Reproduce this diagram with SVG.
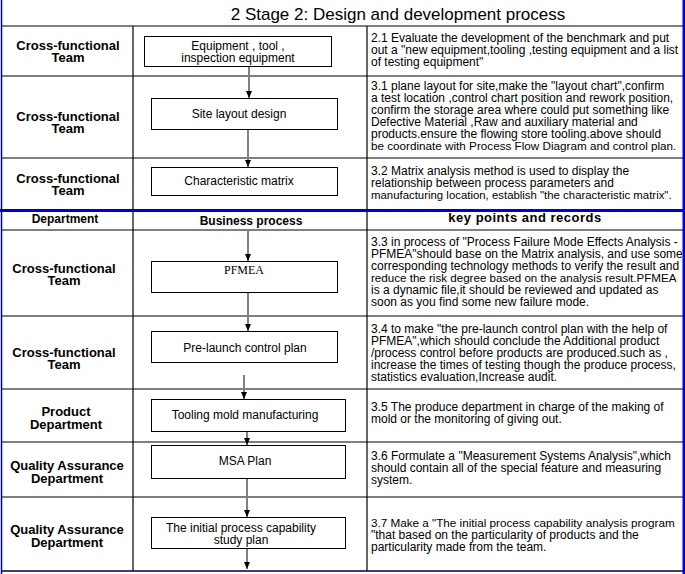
<svg xmlns="http://www.w3.org/2000/svg" width="685" height="574" viewBox="0 0 685 574">
<style>
.lbl{font-family:"Liberation Sans",Arial,sans-serif;font-size:13px;font-weight:bold;fill:#000;text-anchor:middle}
.hdr{font-family:"Liberation Sans",Arial,sans-serif;font-size:12px;font-weight:bold;fill:#000;text-anchor:middle}
.txt{font-family:"Liberation Sans",Arial,sans-serif;font-size:12px;fill:#000}
.bt{font-family:"Liberation Sans",Arial,sans-serif;font-size:12px;fill:#000;text-anchor:middle}
.box{fill:#fff;stroke:#000;stroke-width:1}
.grid{stroke:#000;stroke-width:1.2;fill:none}
.con{stroke:#808080;stroke-width:2;fill:none}
</style>
<defs>
<marker id="ah" markerWidth="7" markerHeight="6" refX="7" refY="3" orient="auto" markerUnits="userSpaceOnUse" viewBox="0 0 7 6">
<path d="M0,0 L7,3 L0,6 Z" fill="#000"/>
</marker>
</defs>
<rect x="0" y="0" width="685" height="574" fill="#fff"/>
<g id="grid">
<line class="grid" x1="2" y1="26" x2="683" y2="26"/>
<line class="grid" x1="2" y1="76" x2="683" y2="76"/>
<line class="grid" x1="2" y1="158" x2="683" y2="158"/>
<line class="grid" x1="2" y1="230" x2="683" y2="230"/>
<line class="grid" x1="2" y1="316" x2="683" y2="316"/>
<line class="grid" x1="2" y1="389" x2="683" y2="389"/>
<line class="grid" x1="2" y1="442" x2="683" y2="442"/>
<line class="grid" x1="2" y1="497" x2="683" y2="497"/>
<line x1="2" y1="571" x2="683" y2="571" stroke="#000040" stroke-width="1.5"/>
<line class="grid" x1="133" y1="26" x2="133" y2="571"/>
<line class="grid" x1="367" y1="26" x2="367" y2="571"/>
<rect x="0" y="209" width="685" height="3" fill="#0000cc"/>
<line x1="1.5" y1="0" x2="1.5" y2="574" stroke="#000080" stroke-width="1.5"/>
<rect x="682.5" y="0" width="2.5" height="574" fill="#0000e0"/>
</g>
<text x="398" y="20" font-family="Liberation Sans,Arial,sans-serif" font-size="17" text-anchor="middle">2  Stage 2: Design and development process</text>
<g id="header">
<text class="hdr" x="65" y="223" font-size="13">Department</text>
<text class="hdr" x="251" y="225">Business process</text>
<text class="hdr" x="525" y="222" style="font-size:13px;letter-spacing:0.5px">key points and records</text>
</g>
<g id="dept">
<text class="lbl" x="68" y="50">Cross-functional</text><text class="lbl" x="68" y="62">Team</text>
<text class="lbl" x="68" y="121">Cross-functional</text><text class="lbl" x="68" y="133">Team</text>
<text class="lbl" x="68" y="183">Cross-functional</text><text class="lbl" x="68" y="195">Team</text>
<text class="lbl" x="64" y="273">Cross-functional</text><text class="lbl" x="64" y="285">Team</text>
<text class="lbl" x="64" y="357">Cross-functional</text><text class="lbl" x="64" y="369">Team</text>
<text class="lbl" x="66" y="416">Product</text><text class="lbl" x="66" y="429">Department</text>
<text class="lbl" x="67" y="470">Quality Assurance</text><text class="lbl" x="67" y="483">Department</text>
<text class="lbl" x="67" y="534">Quality Assurance</text><text class="lbl" x="67" y="547">Department</text>
</g>
<g id="connectors">
<line class="con" x1="249" y1="66" x2="249" y2="98" marker-end="url(#ah)"/>
<line class="con" x1="248" y1="129" x2="248" y2="167" marker-end="url(#ah)"/>
<line class="con" x1="248" y1="230" x2="248" y2="261" marker-end="url(#ah)"/>
<line class="con" x1="248" y1="292" x2="248" y2="331" marker-end="url(#ah)"/>
<line class="con" x1="244" y1="375" x2="244" y2="399" marker-end="url(#ah)"/>
<line class="con" x1="247" y1="431" x2="247" y2="445" marker-end="url(#ah)"/>
<line class="con" x1="247" y1="478" x2="247" y2="517" marker-end="url(#ah)"/>
<line class="con" x1="247" y1="548" x2="247" y2="569" marker-end="url(#ah)"/>
</g>
<g id="n1"><rect class="box" x="144.5" y="36.5" width="187" height="30"/><text class="bt" x="238" y="50">Equipment , tool ,</text><text class="bt" x="238" y="62">inspection equipment</text></g>
<g id="n2"><rect class="box" x="151.5" y="98.5" width="186" height="31"/><text class="bt" x="239" y="118">Site layout design</text></g>
<g id="n3"><rect class="box" x="151.5" y="167.5" width="186" height="28"/><text class="bt" x="239" y="185">Characteristic matrix</text></g>
<g id="n4"><rect class="box" x="151.5" y="261.5" width="186" height="31"/><text x="244" y="274" font-family="Liberation Serif,serif" font-size="12" text-anchor="middle">PFMEA</text></g>
<g id="n5"><rect class="box" x="151.5" y="331.5" width="186" height="31"/><text class="bt" x="245" y="352">Pre-launch control plan</text></g>
<g id="n6"><rect class="box" x="151.5" y="399.5" width="194" height="32"/><text class="bt" x="245" y="419">Tooling mold manufacturing</text></g>
<g id="n7"><rect class="box" x="151.5" y="445.5" width="194" height="33"/><text class="bt" x="245" y="465">MSA Plan</text></g>
<g id="n8"><rect class="box" x="151.5" y="517.5" width="194" height="31"/><text class="bt" x="241" y="532">The initial process capability</text><text class="bt" x="241" y="544">study plan</text></g>
<g id="notes">
<text class="txt" x="371" y="42">2.1 Evaluate the development of the benchmark and put</text>
<text class="txt" x="371" y="54">out a "new equipment,tooling ,testing equipment and a list</text>
<text class="txt" x="371" y="66">of testing equipment"</text>
<text class="txt" x="371" y="90">3.1 plane layout for site,make the "layout chart",confirm</text>
<text class="txt" x="371" y="102">a test location ,control chart position and rework position,</text>
<text class="txt" x="371" y="114">confirm the storage area where could put something like</text>
<text class="txt" x="371" y="126">Defective Material ,Raw and auxiliary  material and</text>
<text class="txt" x="371" y="138">products.ensure the flowing store tooling.above should</text>
<text class="txt" x="371" y="150" style="font-size:11.7px">be coordinate with Process Flow Diagram and control plan.</text>
<text class="txt" x="371" y="175">3.2 Matrix analysis method is used to display the</text>
<text class="txt" x="371" y="187">relationship between process parameters and</text>
<text class="txt" x="371" y="199" style="font-size:11.4px">manufacturing location, establish "the characteristic matrix".</text>
<text class="txt" x="371" y="246">3.3 in process of "Process Failure Mode Effects Analysis -</text>
<text class="txt" x="371" y="258">PFMEA"should base on the Matrix analysis, and use some</text>
<text class="txt" x="371" y="270">corresponding technology  methods to verify the result and</text>
<text class="txt" x="371" y="282" style="font-size:11.6px">reduce the risk degree based on the analysis result.PFMEA</text>
<text class="txt" x="371" y="294"> is a dynamic file,it should be reviewed and updated as</text>
<text class="txt" x="371" y="306">soon as you find some new failure mode.</text>
<text class="txt" x="371" y="333">3.4  to make "the pre-launch control plan with the help of</text>
<text class="txt" x="371" y="345">PFMEA",which should conclude  the Additional product</text>
<text class="txt" x="371" y="357">/process control before products are produced.such as ,</text>
<text class="txt" x="371" y="369">increase the times of testing though the produce process,</text>
<text class="txt" x="371" y="381">statistics evaluation,Increase audit.</text>
<text class="txt" x="371" y="411">3.5 The produce department in charge of the making of</text>
<text class="txt" x="371" y="423">mold or the monitoring of giving out.</text>
<text class="txt" x="371" y="460">3.6 Formulate a "Measurement Systems Analysis",which</text>
<text class="txt" x="371" y="472">should contain all of the special feature and measuring</text>
<text class="txt" x="371" y="484">system.</text>
<text class="txt" x="371" y="527" style="font-size:11.7px">3.7 Make a "The initial process capability analysis program</text>
<text class="txt" x="371" y="539"> "that based on the particularity of products and the</text>
<text class="txt" x="371" y="551">particularity  made from the team.</text>
</g>
</svg>
